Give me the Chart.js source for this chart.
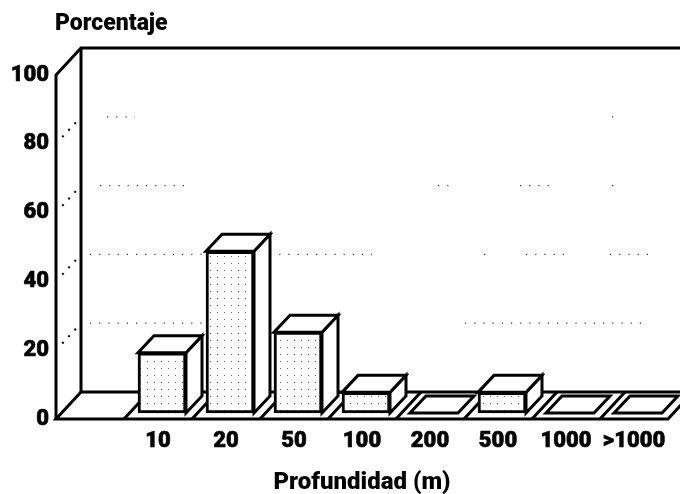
<!DOCTYPE html>
<html>
<head>
<meta charset="utf-8">
<style>html,body{margin:0;padding:0;background:#fff}canvas{display:block}</style>
<script src="https://cdn.jsdelivr.net/npm/chart.js@4"></script>
</head>
<body>
<canvas id="c" width="680" height="494"></canvas>
<script>
const categories = ['', '10', '20', '50', '100', '200', '500', '1000', '>1000'];
const porcentaje = [null, 17.5, 47, 23.5, 6, 0, 6, 0, 0];
const yTicks = [0, 20, 40, 60, 80, 100];
const yTitle = 'Porcentaje';
const xTitle = 'Profundidad (m)';
// sparse remains of the dotted gridlines on the back wall: [value, [fromPx, toPx], ...]
const gridRemains = [
  [80, [107, 135], [612, 615]],
  [60, [100, 192], [438, 452], [520, 552], [612, 616]],
  [40, [90, 205], [270, 372], [484, 488], [526, 566], [610, 655]],
  [20, [90, 205], [465, 645]]
];

const FONT = 'Roboto, "Liberation Sans", sans-serif';
const wallDx = 25, wallDy = -27, barDx = 16, barDy = -17, shiftX = 4, shiftY = -6;

const pc = document.createElement('canvas');
pc.width = 7; pc.height = 7;
const p = pc.getContext('2d');
p.fillStyle = '#fff'; p.fillRect(0, 0, 7, 7);
p.fillStyle = '#666'; p.fillRect(3, 3, 1, 1);
const ctx0 = document.getElementById('c').getContext('2d');
const stipple = ctx0.createPattern(pc, 'repeat');

function poly(ctx, pts, fill) {
  ctx.beginPath();
  pts.forEach((q, i) => i ? ctx.lineTo(q[0], q[1]) : ctx.moveTo(q[0], q[1]));
  ctx.closePath();
  if (fill) { ctx.fillStyle = fill; ctx.fill(); }
  ctx.stroke();
}
function line(ctx, pts) {
  ctx.beginPath();
  pts.forEach((q, i) => i ? ctx.lineTo(q[0], q[1]) : ctx.moveTo(q[0], q[1]));
  ctx.stroke();
}

const box3d = {
  id: 'box3d',
  afterLayout(chart) { chart.titleBlock.left = 55; },
  beforeDatasetsDraw(chart) {
    const { ctx, scales: { x, y } } = chart;
    const y0 = y.getPixelForValue(0), y100 = y.getPixelForValue(100);
    const L = x.left, R = x.right;
    ctx.save();
    // dotted remains on the back wall
    ctx.strokeStyle = '#333'; ctx.lineWidth = 1.2; ctx.setLineDash([1.2, 8]);
    gridRemains.forEach(([v, ...segs]) => {
      const py = y.getPixelForValue(v);
      segs.forEach(s => line(ctx, [[s[0], py + wallDy], [s[1], py + wallDy]]));
    });
    // dotted remains on the side wall
    ctx.strokeStyle = '#000'; ctx.lineWidth = 2; ctx.setLineDash([2, 7]);
    gridRemains.forEach(([v]) => {
      const py = y.getPixelForValue(v);
      line(ctx, [[L + 0.25 * wallDx, py + 0.25 * wallDy], [L + wallDx, py + wallDy]]);
    });
    ctx.setLineDash([]);
    ctx.strokeStyle = '#000'; ctx.lineWidth = 3; ctx.lineJoin = 'miter';
    // walls
    line(ctx, [[L, y0], [L, y100], [L + wallDx, y100 + wallDy], [680, y100 + wallDy]]);
    line(ctx, [[L + wallDx, y100 + wallDy], [L + wallDx, y0 + wallDy], [680, y0 + wallDy]]);
    line(ctx, [[L + wallDx, y0 + wallDy], [L, y0], [R, y0], [R + wallDx, y0 + wallDy]]);
    // floor tile separators
    const step = (R - L) / categories.length;
    for (let i = 1; i < categories.length; i++) {
      const fx = L + step * i;
      line(ctx, [[fx, y0], [fx + wallDx, y0 + wallDy]]);
    }
    ctx.restore();
  },
  beforeDatasetDraw(chart, args) {
    const { ctx } = chart;
    ctx.save();
    ctx.translate(shiftX, shiftY);
    ctx.strokeStyle = '#000'; ctx.lineWidth = 3; ctx.lineJoin = 'miter';
    chart.getDatasetMeta(args.index).data.forEach((el, i) => {
      if (porcentaje[i] === null) return;
      const x0 = el.x - el.width / 2, x1 = el.x + el.width / 2, t = el.y, b = el.base;
      if (b - t > 0.5) {
        poly(ctx, [[x1, t], [x1, b], [x1 + barDx, b + barDy], [x1 + barDx, t + barDy]], '#fff');
      }
      poly(ctx, [[x0, t], [x1, t], [x1 + barDx, t + barDy], [x0 + barDx, t + barDy]], '#fff');
    });
  },
  afterDatasetDraw(chart) { chart.ctx.restore(); }
};

new Chart(ctx0, {
  type: 'bar',
  plugins: [box3d],
  data: {
    labels: categories,
    datasets: [{
      label: yTitle,
      data: porcentaje,
      backgroundColor: stipple,
      borderColor: '#000',
      borderWidth: 3,
      borderSkipped: false,
      barThickness: 48,
      clip: false
    }]
  },
  options: {
    responsive: false,
    animation: false,
    layout: { padding: { top: 10, right: 12, left: 0, bottom: 0 } },
    plugins: {
      legend: { display: false },
      tooltip: { enabled: false },
      title: {
        display: true, text: yTitle, align: 'start', color: '#000',
        font: { family: FONT, size: 23, weight: '900' },
        padding: { top: 0, bottom: 37.4 }
      }
    },
    scales: {
      x: {
        afterFit(s) { s.height = 75; },
        grid: { display: false, drawTicks: false },
        border: { display: false },
        ticks: {
          color: '#000', autoSkip: false, maxRotation: 0, minRotation: 0, padding: 9,
          textStrokeColor: '#000', textStrokeWidth: 0.6,
          font: { family: FONT, size: 22, weight: '900' }
        },
        title: {
          display: true, text: xTitle, color: '#000',
          font: { family: FONT, size: 24, weight: '900' },
          padding: { top: 10, bottom: -3 }
        }
      },
      y: {
        min: 0, max: 100,
        afterFit(s) { s.width = 56; },
        afterBuildTicks(s) { s.ticks = yTicks.map(v => ({ value: v })); },
        grid: { display: false, drawTicks: false },
        border: { display: false },
        ticks: {
          color: '#000', padding: 7,
          textStrokeColor: '#000', textStrokeWidth: 0.6,
          font: { family: FONT, size: 22, weight: '900' }
        }
      }
    }
  }
});
</script>
</body>
</html>
